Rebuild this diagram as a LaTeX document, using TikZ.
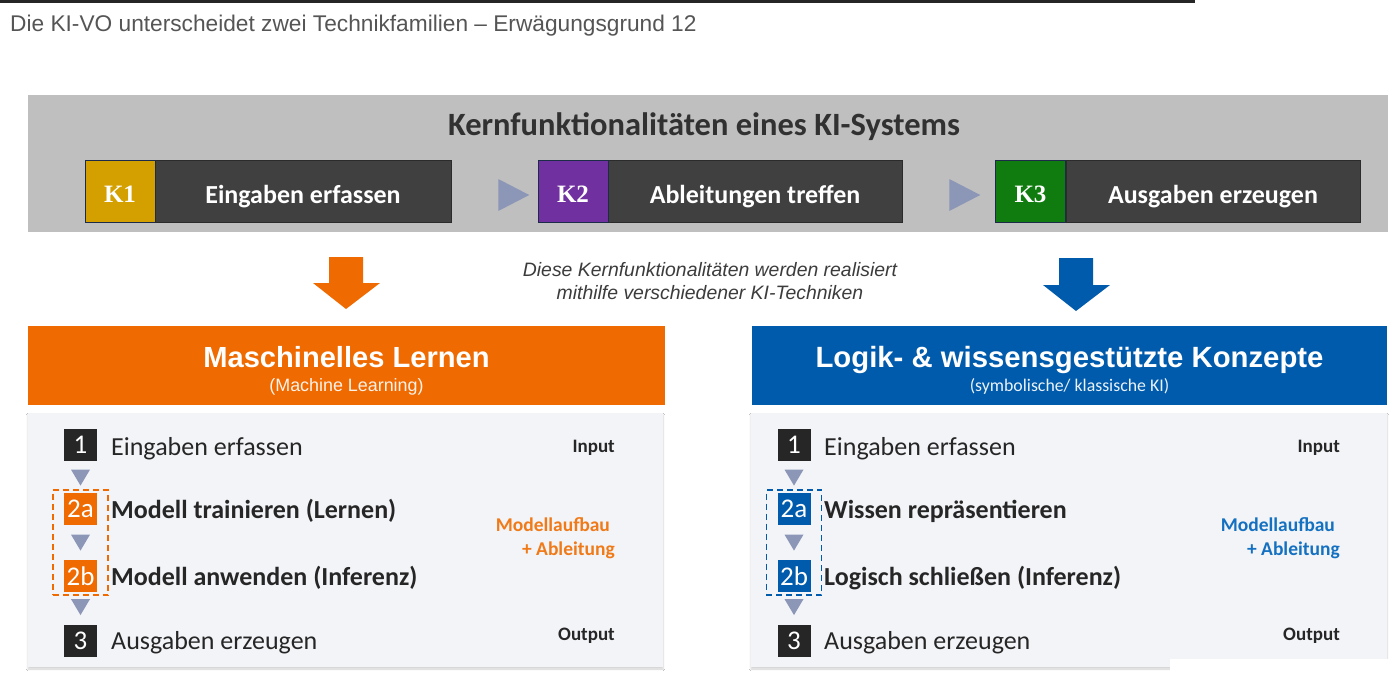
\documentclass[tikz,border=0pt]{standalone}
\usepackage{fontspec}
\setmainfont{Carlito}
\newfontfamily\arialfont{Liberation Sans}
\newfontfamily\kfont{Liberation Serif}
\usetikzlibrary{shapes.geometric,fit,shadows.blur}

\definecolor{bandgray}{HTML}{BFBFBF}
\definecolor{kdark}{HTML}{404040}
\definecolor{kline}{HTML}{2B2B2B}
\definecolor{kborder}{HTML}{1C2B48}
\definecolor{kyellow}{HTML}{D4A000}
\definecolor{kpurple}{HTML}{7030A0}
\definecolor{kgreen}{HTML}{107C10}
\definecolor{trigray}{HTML}{8C97B7}
\definecolor{mlorange}{HTML}{EF6A00}
\definecolor{mlorangetxt}{HTML}{F07A18}
\definecolor{kbblue}{HTML}{005BAC}
\definecolor{kbbluetxt}{HTML}{1470C0}
\definecolor{panelbg}{HTML}{F3F4F8}
\definecolor{darktxt}{HTML}{262626}
\definecolor{titlegray}{HTML}{555555}

\newcommand{\fs}[1]{\fontsize{#1}{#1}\selectfont}

\tikzset{
  kcode/.style={draw=kborder, line width=0.8pt, minimum width=70pt, minimum height=62pt,
    inner sep=0pt, text height=23pt, text depth=0pt, text=white, font=\kfont\bfseries\fs{25}},
  kbar/.style={fill=kdark, draw=kline, line width=0.8pt, minimum height=62pt, inner sep=0pt,
    text height=24pt, text depth=0pt, text=white, font=\bfseries\fs{26}},
  flowtri/.style={isosceles triangle, isosceles triangle stretches, fill=trigray,
    inner sep=0pt, minimum width=32pt, minimum height=31pt},
  steptri/.style={isosceles triangle, isosceles triangle stretches, fill=trigray,
    shape border rotate=270, inner sep=0pt, minimum width=19pt, minimum height=16pt},
  numbox/.style={minimum width=33pt, minimum height=32pt, inner sep=0pt, text=white,
    font=\fs{27}},
  steptext/.style={anchor=base west, inner sep=0pt, text=darktxt, font=\fs{26}},
  sidetext/.style={anchor=base east, inner sep=0pt, text=darktxt, font=\bfseries\fs{19}},
  sidenote/.style={anchor=east, align=right, inner sep=0pt, font=\bfseries\fs{19.5}},
  group/.style={dashed, dash pattern=on 6pt off 4pt, line width=1.5pt, inner xsep=11pt, inner ysep=3pt},
  header/.style={minimum height=79pt, inner sep=0pt},
  panel/.style={fill=panelbg, minimum height=254pt, inner sep=0pt,
    blur shadow={shadow xshift=0pt, shadow yshift=-2pt, shadow blur steps=6, shadow opacity=18}},
}

\begin{document}
\begin{tikzpicture}[x=1pt,y=-1pt]
  \useasboundingbox (0,0) rectangle (1400,685);
  \fill[white] (0,0) rectangle (1400,685);

  % page heading
  \fill[black!85] (0,0) rectangle (1195,3);
  \node[anchor=base west, inner sep=0pt, text=titlegray, font=\arialfont\fs{22.7}] (heading) at (10,32)
    {Die KI-VO unterscheidet zwei Technikfamilien – Erwägungsgrund 12};

  % core functions
  \node[fill=bandgray, minimum width=1360pt, minimum height=137pt, inner sep=0pt] (band) at (708,163.5) {};
  \node[anchor=base, inner sep=0pt, text=darktxt!95, font=\bfseries\fs{32.5}] (bandtitle) at (704,135)
    {Kernfunktionalitäten eines KI-Systems};

  \node[kbar, minimum width=296pt] (kone) at (303,191) {Eingaben erfassen};
  \node[kcode, fill=kyellow] (konecode) at (120,191) {K1};
  \node[flowtri] (triA) at (508,195) {};
  \node[kbar, minimum width=294pt] (ktwo) at (755,191) {Ableitungen treffen};
  \node[kcode, fill=kpurple] (ktwocode) at (573,191) {K2};
  \node[flowtri] (triB) at (959,195) {};
  \node[kbar, minimum width=294pt] (kthree) at (1213,191) {Ausgaben erzeugen};
  \node[kcode, fill=kgreen] (kthreecode) at (1030.5,191) {K3};

  % block arrows
  \fill[mlorange] (329,257) -- (363,257) -- (363,283) -- (380,283) -- (346,309) -- (313,283) -- (329,283) -- cycle;
  \fill[kbblue] (1059,258) -- (1093,258) -- (1093,285) -- (1110,285) -- (1076,311) -- (1043,285) -- (1059,285) -- cycle;
  \node[align=center, text=darktxt!90, font=\arialfont\itshape\fs{19.4}, inner sep=0pt] (note) at (710,281)
    {Diese Kernfunktionalitäten werden realisiert\\[3pt]mithilfe verschiedener KI-Techniken};

  % headers
  \node[header, fill=mlorange, minimum width=637pt] (mlhead) at (346.5,365.5) {};
  \node[anchor=base, inner sep=0pt, text=white, font=\arialfont\bfseries\fs{29.1}] (mltitle) at (346.5,367) {Maschinelles Lernen};
  \node[anchor=base, inner sep=0pt, text=white!92!mlorange, font=\arialfont\fs{17.9}] (mlsub) at (346.5,391) {(Machine Learning)};
  \node[header, fill=kbblue, minimum width=635pt] (kbhead) at (1069.5,365.5) {};
  \node[anchor=base, inner sep=0pt, text=white, font=\arialfont\bfseries\fs{29.3}] (kbtitle) at (1069.5,367) {Logik- \& wissensgestützte Konzepte};
  \node[anchor=base, inner sep=0pt, text=white!92!kbblue, font=\fs{17.8}] (kbsub) at (1069.5,391) {(symbolische/ klassische KI)};

  % left panel
  \node[panel, minimum width=635pt] (mlpanel) at (345.5,540) {};
  \node[numbox, fill=darktxt] (mlone) at (80.5,445) {1};
  \node[steptri] (mltriA) at (80.5,475) {};
  \node[numbox, fill=mlorange] (mltwoa) at (80.5,509) {2a};
  \node[steptri] (mltriB) at (80.5,540) {};
  \node[numbox, fill=mlorange] (mltwob) at (80.5,576) {2b};
  \node[steptri] (mltriC) at (80.5,604.5) {};
  \node[numbox, fill=darktxt] (mlthree) at (80.5,641) {3};
  \node[group, draw=mlorange, fit=(mltwoa)(mltwob)] (mlgroup) {};
  \node[steptext] at (111,455) {Eingaben erfassen};
  \node[steptext, font=\bfseries\fs{26}] at (111,518) {Modell trainieren (Lernen)};
  \node[steptext, font=\bfseries\fs{26}] at (111,585) {Modell anwenden (Inferenz)};
  \node[steptext] at (111,649) {Ausgaben erzeugen};
  \node[sidetext] (mlin) at (615,452) {Input};
  \node[sidenote, text=mlorangetxt] (mlmid) at (615,538) {Modellaufbau\kern5pt\\[4pt]+ Ableitung};
  \node[sidetext] (mlout) at (615,640) {Output};

  % right panel
  \node[panel, minimum width=636pt] (kbpanel) at (1069,540) {};
  \node[numbox, fill=darktxt] (kbone) at (794,445) {1};
  \node[steptri] (kbtriA) at (794,475) {};
  \node[numbox, fill=kbblue] (kbtwoa) at (794,509) {2a};
  \node[steptri] (kbtriB) at (794,540) {};
  \node[numbox, fill=kbblue] (kbtwob) at (794,576) {2b};
  \node[steptri] (kbtriC) at (794,604.5) {};
  \node[numbox, fill=darktxt] (kbthree) at (794,641) {3};
  \node[group, draw=kbblue, fit=(kbtwoa)(kbtwob)] (kbgroup) {};
  \node[steptext] at (824,455) {Eingaben erfassen};
  \node[steptext, font=\bfseries\fs{26}] at (824,518) {Wissen repräsentieren};
  \node[steptext, font=\bfseries\fs{26}] at (824,585) {Logisch schließen (Inferenz)};
  \node[steptext] at (824,649) {Ausgaben erzeugen};
  \node[sidetext] (kbin) at (1340,452) {Input};
  \node[sidenote, text=kbbluetxt] (kbmid) at (1340,538) {Modellaufbau\kern5pt\\[4pt]+ Ableitung};
  \node[sidetext] (kbout) at (1340,640) {Output};
  \fill[white] (1170,659) rectangle (1400,685);
\end{tikzpicture}
\end{document}
